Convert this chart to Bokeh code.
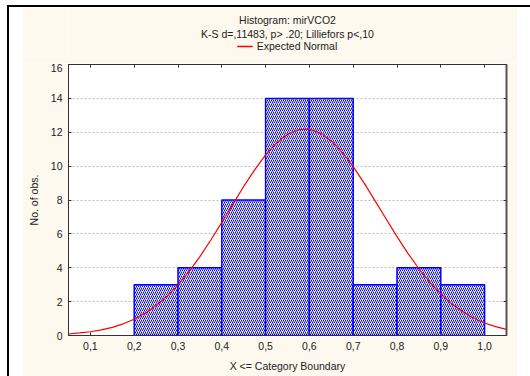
from bokeh.plotting import figure
from bokeh.models import LinearAxis, FixedTicker, Legend, LegendItem, Range1d, Spacer, Label
from bokeh.layouts import row, column
from bokeh.embed import file_html
from bokeh.resources import INLINE

# ---- data ----
bin_edges = [0.2, 0.3, 0.4, 0.5, 0.6, 0.7, 0.8, 0.9, 1.0]
counts = [3, 4, 8, 14, 14, 3, 4, 3]

# expected normal curve (values read/estimated along the red line)
curve_x = [0.050, 0.075, 0.100, 0.125, 0.150, 0.175, 0.200, 0.225, 0.250, 0.275,
           0.300, 0.325, 0.350, 0.375, 0.400, 0.425, 0.450, 0.475, 0.500, 0.525,
           0.550, 0.575, 0.600, 0.625, 0.650, 0.675, 0.700, 0.725, 0.750, 0.775,
           0.800, 0.825, 0.850, 0.875, 0.900, 0.925, 0.950, 0.975, 1.000, 1.025, 1.050]
curve_y = [0.09, 0.15, 0.22, 0.33, 0.48, 0.69, 0.96, 1.32, 1.77, 2.32,
           2.99, 3.77, 4.66, 5.64, 6.68, 7.74, 8.80, 9.78, 10.66, 11.37,
           11.88, 12.15, 12.18, 11.95, 11.49, 10.81, 9.97, 9.00, 7.95, 6.89,
           5.84, 4.85, 3.94, 3.14, 2.45, 1.87, 1.40, 1.03, 0.74, 0.52, 0.36]

x_ticks = [0.1, 0.2, 0.3, 0.4, 0.5, 0.6, 0.7, 0.8, 0.9, 1.0]
x_tick_labels = ["0,1", "0,2", "0,3", "0,4", "0,5", "0,6", "0,7", "0,8", "0,9", "1,0"]
y_ticks = [0, 2, 4, 6, 8, 10, 12, 14, 16]

title_text = "Histogram: mirVCO2"
subtitle_text = "K-S d=,11483, p> .20; Lilliefors p<,10"
legend_text = "Expected Normal"
x_label = "X <= Category Boundary"
y_label = "No. of obs."

FONT = "Liberation Sans"
CREAM = "#FDF9EE"
TXT = "#222222"

CREAM_W = 495
CREAM_H = 369
HEADER_H = 56

# ---------------- header (titles + legend) ----------------
hdr = figure(width=CREAM_W, height=HEADER_H, x_range=Range1d(0, 1), y_range=Range1d(0, HEADER_H),
             output_backend="svg", toolbar_location=None, title=None,
             min_border=0, border_fill_color=CREAM, background_fill_color=CREAM,
             outline_line_color=None)
hdr.axis.visible = False
hdr.grid.visible = False
hdr.add_layout(Label(x=0.5, y=HEADER_H - 12, text=title_text, text_align="center",
                     text_baseline="middle", text_font=FONT, text_font_size="10.5px",
                     text_color=TXT))
hdr.add_layout(Label(x=0.5, y=HEADER_H - 26, text=subtitle_text, text_align="center",
                     text_baseline="middle", text_font=FONT, text_font_size="10.5px",
                     text_color=TXT))
# off-range proxy so that the legend can show the red line sample
legend_proxy = hdr.line([-1, -1], [-1, -1], line_color="#FF0000", line_width=1.5)
legend = Legend(items=[LegendItem(label=legend_text, renderers=[legend_proxy])],
                orientation="horizontal", location="bottom_center",
                background_fill_alpha=0, border_line_alpha=0,
                label_text_font=FONT, label_text_font_size="10.5px", label_text_color=TXT,
                glyph_width=16, glyph_height=10, padding=0, margin=11, label_standoff=4,
                label_height=10)
hdr.add_layout(legend)

# ---------------- main histogram ----------------
p = figure(width=CREAM_W, height=CREAM_H - HEADER_H, x_range=Range1d(0.05, 1.05),
           y_range=Range1d(0, 16),
           output_backend="svg", toolbar_location=None, title=None,
           min_border_left=46, min_border_right=11, min_border_top=1, min_border_bottom=41,
           border_fill_color=CREAM, background_fill_color="white",
           outline_line_color="#333333", outline_line_width=1)

p.quad(left=bin_edges[:-1], right=bin_edges[1:], bottom=0, top=counts,
       fill_color="white", line_color="#0000FF", line_width=1.5,
       hatch_pattern="/", hatch_color="#0000FF", hatch_scale=4, hatch_weight=1.0)

p.line(curve_x, curve_y, line_color="#FF0000", line_width=1.2)

xa = p.xaxis[0]
xa.ticker = FixedTicker(ticks=x_ticks)
xa.major_label_overrides = {t: lab for t, lab in zip(x_ticks, x_tick_labels)}
ya = p.yaxis[0]
ya.ticker = FixedTicker(ticks=y_ticks)
for ax in (xa, ya):
    ax.major_tick_in = 3
    ax.major_tick_out = 0
    ax.minor_tick_in = 0
    ax.minor_tick_out = 0
    ax.axis_line_color = "#333333"
    ax.major_tick_line_color = "#333333"
    ax.major_label_text_font = FONT
    ax.major_label_text_font_size = "10.5px"
    ax.major_label_text_color = TXT
    ax.axis_label_text_font = FONT
    ax.axis_label_text_font_size = "10.5px"
    ax.axis_label_text_font_style = "normal"
    ax.axis_label_text_color = TXT
xa.axis_label = x_label
ya.axis_label = y_label
xa.major_label_standoff = 6
xa.axis_label_standoff = 7
ya.major_label_standoff = 6
ya.axis_label_standoff = 8

p.xgrid.visible = False
p.ygrid.ticker = FixedTicker(ticks=y_ticks[1:-1])
p.ygrid.grid_line_color = "#BBBBBB"
p.ygrid.grid_line_dash = "2 2"

# right / top frame edges: inward ticks only (as minor ticks, so no labels are drawn)
right_ax = LinearAxis(ticker=FixedTicker(ticks=[], minor_ticks=y_ticks),
                      major_tick_in=0, major_tick_out=0, minor_tick_in=3, minor_tick_out=0,
                      major_label_standoff=0, axis_line_color="#555555", axis_line_width=2,
                      minor_tick_line_color="#333333")
p.add_layout(right_ax, "right")
top_ax = LinearAxis(ticker=FixedTicker(ticks=[], minor_ticks=x_ticks),
                    major_tick_in=0, major_tick_out=0, minor_tick_in=3, minor_tick_out=0,
                    major_label_standoff=0, axis_line_color="#333333",
                    minor_tick_line_color="#333333")
p.add_layout(top_ax, "above")

# ---------------- page frame: black top/left rules, white gap ----------------
top_pad = Spacer(width=530, height=5)
left_pad = Spacer(width=7, height=371)
top_line = Spacer(width=523, height=2, styles={"background-color": "black"})
left_line = Spacer(width=2, height=CREAM_H, styles={"background-color": "black"})
gap = Spacer(width=13, height=CREAM_H)
root = column(top_pad,
              row(left_pad, column(top_line, row(left_line, gap, column(hdr, p)))))

open("out.html", "w").write(file_html(root, INLINE))
